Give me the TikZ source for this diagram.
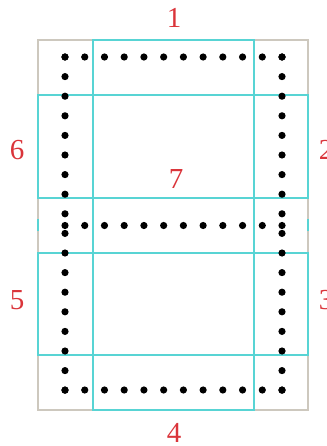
\documentclass[tikz,border=0pt]{standalone}
\usepackage{fontspec}
\setmainfont{Liberation Serif}
\usepackage{xcolor}
\usetikzlibrary{positioning}
\definecolor{segcyan}{RGB}{88,212,212}
\definecolor{framegray}{RGB}{205,200,190}
\definecolor{labelred}{RGB}{218,52,58}

\tikzset{
  segment/.style={draw=segcyan,line width=1.6pt},
  seglabel/.style={font=\fontsize{29}{29}\selectfont,text=labelred,inner sep=0pt},
  pixel/.style={fill=black}
}

\begin{document}
\begin{tikzpicture}[x=1pt,y=-1pt]
    \useasboundingbox (0,0) rectangle (326,446);
    % frame
    \draw[framegray,line width=1.3pt] (38,40) rectangle (308,410);
    % segments
    \draw[segment] (93,40) rectangle (254,95);    % 1
    \draw[segment] (254,95) rectangle (308,198);  % 2
    \draw[segment] (254,253) rectangle (308,355); % 3
    \draw[segment] (93,355) rectangle (254,410);  % 4
    \draw[segment] (38,253) rectangle (93,355);   % 5
    \draw[segment] (38,95) rectangle (93,198);    % 6
    \draw[segment] (93,198) rectangle (254,253);  % 7
    \draw[segment] (38,219) -- (38,231);
    \draw[segment] (308,219) -- (308,231);
    % dots
    \foreach \i in {0,...,11} {
      \fill[pixel] (65+19.73*\i,57) circle (3.6);
      \fill[pixel] (65+19.73*\i,225.5) circle (3.6);
      \fill[pixel] (65+19.73*\i,390) circle (3.6);
    }
    \foreach \j in {0,...,17} {
      \fill[pixel] (65,57+19.6*\j) circle (3.6);
      \fill[pixel] (282,57+19.6*\j) circle (3.6);
    }
    % labels
    \node[seglabel] (lab1) at (174,18) {1};
    \node[seglabel] (lab2) at (326,150) {2};
    \node[seglabel] (lab3) at (326,300) {3};
    \node[seglabel] (lab4) at (174,433) {4};
    \node[seglabel] (lab5) at (17,300) {5};
    \node[seglabel] (lab6) at (17,150) {6};
    \node[seglabel] (lab7) at (176,179) {7};
\end{tikzpicture}
\end{document}
